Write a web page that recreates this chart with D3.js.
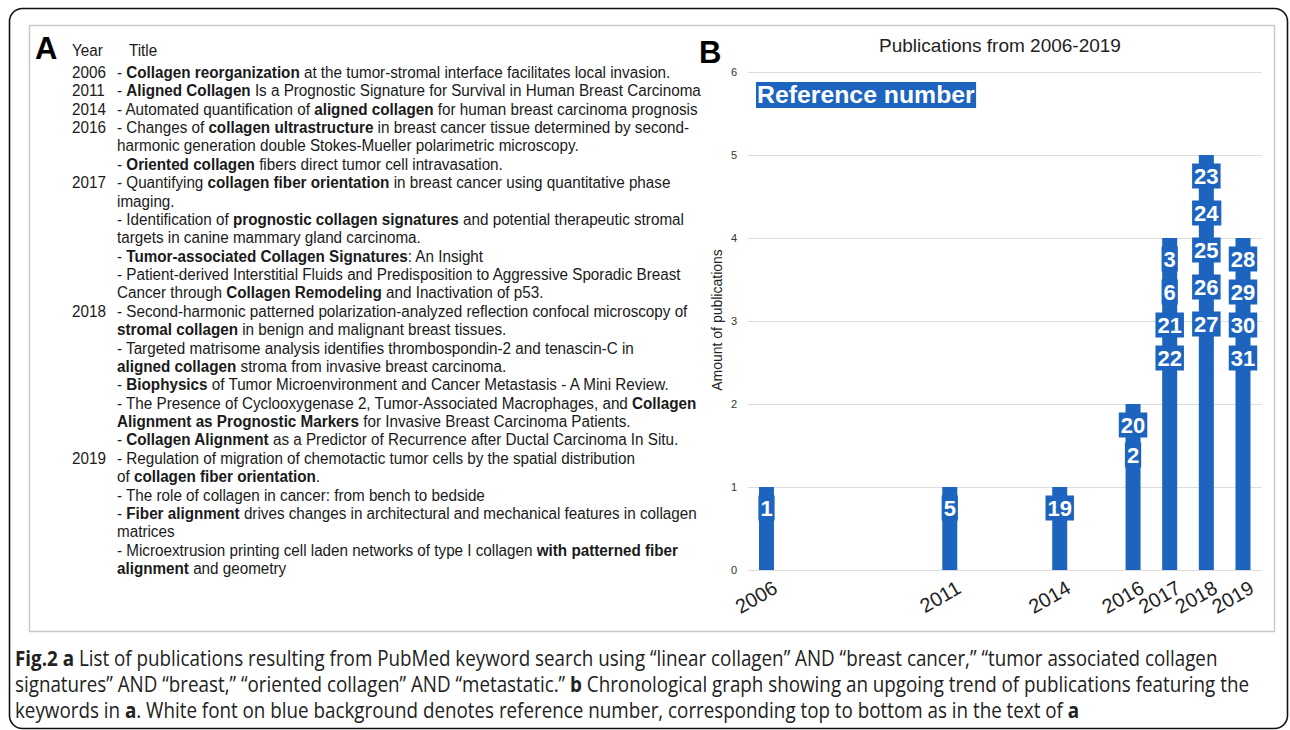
<!DOCTYPE html>
<html><head><meta charset="utf-8">
<script src="https://cdn.jsdelivr.net/npm/d3@7"></script>
<style>
html,body{margin:0;padding:0;background:#fff;}
svg{display:block;}
</style></head>
<body>
<svg id="fig" width="1290" height="730"></svg>
<script>
// ---------------- data ----------------
const years = [2006, 2011, 2014, 2016, 2017, 2018, 2019];
const publicationCounts = [1, 1, 1, 2, 4, 5, 4];
const referenceNumbers = [[1], [5], [19], [20, 2], [3, 6, 21, 22], [23, 24, 25, 26, 27], [28, 29, 30, 31]];
const yTickValues = [0, 1, 2, 3, 4, 5, 6];
const chartTitle = "Publications from 2006-2019";
const yAxisTitle = "Amount of publications";
const legendText = "Reference number";
const panelLetters = ["A", "B"];
const listHeader = ["Year", "Title"];
const listYears = ["2006", "2011", "2014", "2016", "", "", "2017", "", "", "", "", "", "", "2018", "", "", "", "", "", "", "", "2019", "", "", "", "", "", ""];
const listTitles = [
  "- **Collagen reorganization** at the tumor-stromal interface facilitates local invasion.",
  "- **Aligned Collagen** Is a Prognostic Signature for Survival in Human Breast Carcinoma",
  "- Automated quantification of **aligned collagen** for human breast carcinoma prognosis",
  "- Changes of **collagen ultrastructure** in breast cancer tissue determined by second-",
  "harmonic generation double Stokes-Mueller polarimetric microscopy.",
  "- **Oriented collagen** fibers direct tumor cell intravasation.",
  "- Quantifying **collagen fiber orientation** in breast cancer using quantitative phase",
  "imaging.",
  "- Identification of **prognostic collagen signatures** and potential therapeutic stromal",
  "targets in canine mammary gland carcinoma.",
  "- **Tumor-associated Collagen Signatures**: An Insight",
  "- Patient-derived Interstitial Fluids and Predisposition to Aggressive Sporadic Breast",
  "Cancer through **Collagen Remodeling** and Inactivation of p53.",
  "- Second-harmonic patterned polarization-analyzed reflection confocal microscopy of",
  "**stromal collagen** in benign and malignant breast tissues.",
  "- Targeted matrisome analysis identifies thrombospondin-2 and tenascin-C in",
  "**aligned collagen** stroma from invasive breast carcinoma.",
  "- **Biophysics** of Tumor Microenvironment and Cancer Metastasis - A Mini Review.",
  "- The Presence of Cyclooxygenase 2, Tumor-Associated Macrophages, and **Collagen**",
  "**Alignment as Prognostic Markers** for Invasive Breast Carcinoma Patients.",
  "- **Collagen Alignment** as a Predictor of Recurrence after Ductal Carcinoma In Situ.",
  "- Regulation of migration of chemotactic tumor cells by the spatial distribution",
  "of **collagen fiber orientation**.",
  "- The role of collagen in cancer: from bench to bedside",
  "- **Fiber alignment** drives changes in architectural and mechanical features in collagen",
  "matrices",
  "- Microextrusion printing cell laden networks of type I collagen **with patterned fiber**",
  "**alignment** and geometry"
];
const captionLines = [
  "**Fig.2 a** List of publications resulting from PubMed keyword search using \u201clinear collagen\u201d AND \u201cbreast cancer,\u201d \u201ctumor associated collagen",
  "signatures\u201d AND \u201cbreast,\u201d \u201coriented collagen\u201d AND \u201cmetastatic.\u201d **b** Chronological graph showing an upgoing trend of publications featuring the",
  "keywords in **a**. White font on blue background denotes reference number, corresponding top to bottom as in the text of **a**"
];

// ---------------- styles / layout ----------------
const BLUE = "#1c64be";
const SANS = "'Liberation Sans', Arial, Helvetica, sans-serif";
const svg = d3.select("#fig");

function addRich(textSel, str) {
  str.split("**").forEach((part, i) => {
    if (!part) return;
    textSel.append("tspan").attr("font-weight", i % 2 ? "bold" : "normal").text(part);
  });
}

// frames
svg.append("rect").attr("x", 9.5).attr("y", 8.5).attr("width", 1278).attr("height", 720)
  .attr("rx", 13).attr("fill", "none").attr("stroke", "#111").attr("stroke-width", 1.6);
svg.append("rect").attr("x", 29.5).attr("y", 25.5).attr("width", 1245).attr("height", 606)
  .attr("fill", "none").attr("stroke", "#c9c9c9").attr("stroke-width", 1.5);

// ---------------- panel A ----------------
svg.append("text").attr("x", 35).attr("y", 59).attr("font-family", SANS).attr("font-weight", "bold")
  .attr("font-size", 31).attr("fill", "#000").text(panelLetters[0]);

const listFont = 16;
const lineGap = 18.37;
const firstBase = 78;
const bodyX = 117, yearX = 72;
const gA = svg.append("g").attr("font-family", SANS).attr("font-size", listFont).attr("fill", "#1a1a1a");

// measure to fit reference line width
const probe = gA.append("text");
addRich(probe, listTitles[2]);
const w = probe.node().getComputedTextLength();
probe.remove();
const sx = 581 / w;

gA.append("text").attr("transform", `translate(${yearX},56) scale(${sx},1)`).text(listHeader[0]);
gA.append("text").attr("transform", `translate(129,56) scale(${sx},1)`).text(listHeader[1]);
listTitles.forEach((t, i) => {
  const by = firstBase + i * lineGap;
  if (listYears[i]) gA.append("text").attr("transform", `translate(${yearX},${by}) scale(${sx},1)`).text(listYears[i]);
  const tx = gA.append("text").attr("transform", `translate(${bodyX},${by}) scale(${sx},1)`);
  addRich(tx, t);
});

// ---------------- panel B ----------------
svg.append("text").attr("x", 699).attr("y", 63).attr("font-family", SANS).attr("font-weight", "bold")
  .attr("font-size", 31).attr("fill", "#000").text(panelLetters[1]);

const x = d3.scaleLinear().domain([d3.min(years), d3.max(years)]).range([766.5, 1243]);
const y = d3.scaleLinear().domain([0, 6]).range([570, 72]);
const gridLeft = 748, gridRight = 1262;

svg.append("text").attr("x", 1000).attr("y", 52).attr("text-anchor", "middle")
  .attr("font-family", SANS).attr("font-size", 19).attr("fill", "#222").text(chartTitle);

const yAxis = svg.append("g").attr("transform", `translate(${gridLeft},0)`)
  .call(d3.axisLeft(y).tickValues(yTickValues).tickSize(-(gridRight - gridLeft)).tickPadding(11).tickFormat(d3.format("d")));
yAxis.select(".domain").remove();
yAxis.selectAll(".tick line").attr("stroke", "#dcdcdc").attr("stroke-width", 1.2);
yAxis.selectAll(".tick text").attr("font-family", SANS).attr("font-size", 11).attr("fill", "#333");

svg.append("text").attr("transform", "translate(722,320) rotate(-90)").attr("text-anchor", "middle")
  .attr("font-family", SANS).attr("font-size", 14).attr("fill", "#222").text(yAxisTitle);

const xAxis = svg.append("g").attr("transform", `translate(0,${y(0)})`)
  .call(d3.axisBottom(x).tickValues(years).tickSize(0).tickFormat(d3.format("d")));
xAxis.select(".domain").remove();
xAxis.selectAll(".tick text")
  .attr("font-family", SANS).attr("font-size", 20).attr("fill", "#222")
  .attr("text-anchor", "end").attr("dy", null).attr("y", 0)
  .attr("transform", "translate(12,22) rotate(-30)");

// bars
const barW = 15;
svg.append("g").selectAll("rect").data(years).join("rect")
  .attr("x", d => x(d) - barW / 2).attr("width", barW)
  .attr("y", (d, i) => y(publicationCounts[i]))
  .attr("height", (d, i) => y(0) - y(publicationCounts[i]))
  .attr("fill", BLUE);

// reference-number labels
const stepFor = n => n >= 5 ? 37 : n >= 3 ? 33 : 30;
years.forEach((yr, i) => {
  const refs = referenceNumbers[i];
  const step = stepFor(refs.length);
  refs.forEach((r, j) => {
    const cy = y(publicationCounts[i]) + 21 + j * step;
    const g = svg.append("g");
    const rect = g.append("rect").attr("fill", BLUE);
    const t = g.append("text").attr("x", x(yr)).attr("y", cy + 8).attr("text-anchor", "middle")
      .attr("font-family", SANS).attr("font-weight", "bold").attr("font-size", 22).attr("fill", "#fff").text(r);
    const bb = t.node().getBBox();
    rect.attr("x", bb.x - 2).attr("width", bb.width + 4).attr("y", cy - 12.5).attr("height", 25);
  });
});

// legend-like label
{
  const g = svg.append("g");
  const rect = g.append("rect").attr("fill", BLUE);
  const t = g.append("text").attr("x", 757).attr("y", 103).attr("font-family", SANS).attr("font-weight", "bold")
    .attr("font-size", 24.8).attr("fill", "#fff").text(legendText);
  const bb = t.node().getBBox();
  rect.attr("x", bb.x - 1).attr("width", bb.width + 2).attr("y", 82).attr("height", 26);
}

// ---------------- caption ----------------
const capFont = "'Open Sans', 'Noto Sans', sans-serif";
const capSize = 21;
const capProbe = svg.append("text").attr("font-family", capFont).attr("font-size", capSize);
addRich(capProbe, captionLines[0]);
const capSx = 1203 / capProbe.node().getComputedTextLength();
capProbe.remove();
captionLines.forEach((c, i) => {
  const t = svg.append("text").attr("transform", `translate(15,${666 + i * 26}) scale(${capSx},1)`)
    .attr("font-family", capFont).attr("font-size", capSize).attr("fill", "#222");
  addRich(t, c);
});
</script>
</body></html>
